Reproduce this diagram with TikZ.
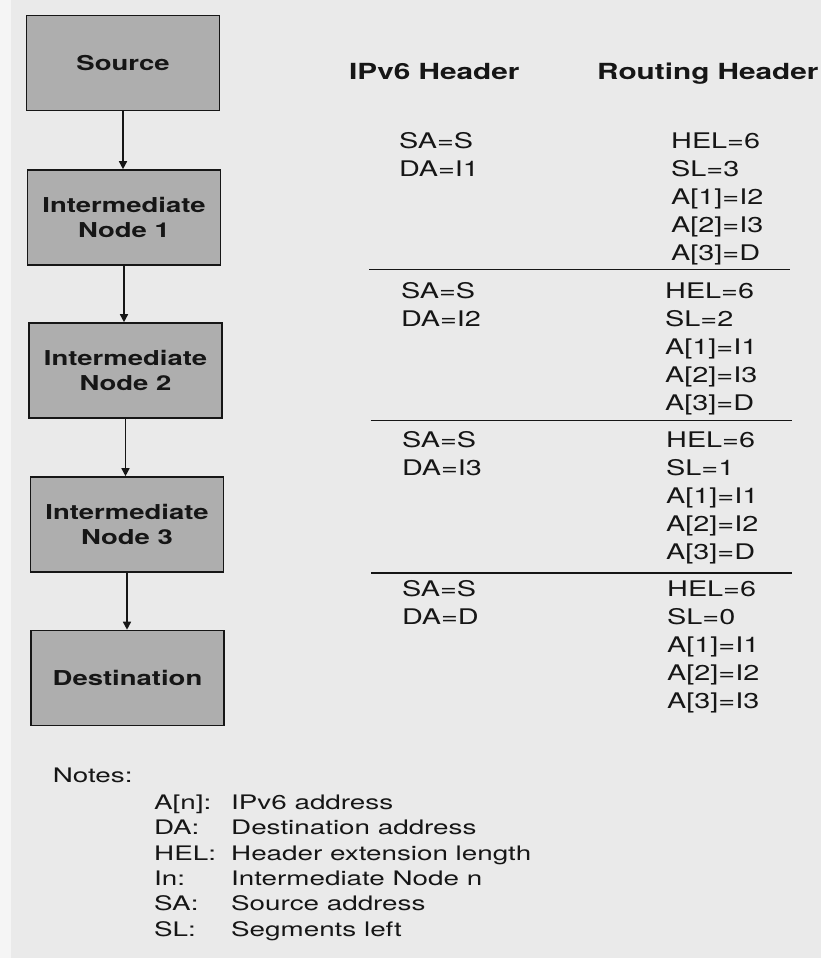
\documentclass[tikz,border=0pt]{standalone}
\usepackage{fontspec}
\usetikzlibrary{arrows.meta}

% Helvetica-like face, set a little wide as in the printed figure
\newfontfamily\heros[FakeStretch=1.34]{TeX Gyre Heros}
\newfontfamily\heroswide[FakeStretch=1.39]{TeX Gyre Heros}
\newcommand{\boxfont}{\heros\bfseries\fontsize{20.5}{25}\selectfont}
\newcommand{\headfont}{\heros\bfseries\fontsize{22.2}{26}\selectfont}
\newcommand{\datafont}{\heros\fontsize{21.5}{28}\selectfont}
\newcommand{\notefont}{\heroswide\fontsize{20}{25}\selectfont}

\definecolor{paper}{HTML}{EAEAEA}
\definecolor{paperedge}{HTML}{F5F5F5}
\definecolor{boxgray}{HTML}{AEAEAE}
\definecolor{ink}{HTML}{161616}

\tikzset{
  hopbox/.style={draw=ink, line width=1.6pt, fill=boxgray,
    minimum width=193pt, minimum height=95pt, inner sep=0pt,
    align=center, font=\boxfont, text=ink},
  hop/.style={draw=ink, line width=1.5pt, -{Triangle[length=8pt,width=8pt]}},
  colhead/.style={anchor=base west, inner sep=0pt, font=\headfont, text=ink},
  field/.style={anchor=base west, inner sep=0pt, font=\datafont, text=ink},
  note/.style={anchor=base west, inner sep=0pt, font=\notefont, text=ink},
  rule/.style={draw=ink, line width=1.4pt}
}

\begin{document}
\begin{tikzpicture}[x=1pt, y=-1pt]
  % page
  \path[use as bounding box, fill=paper] (0,0) rectangle (821,958);
  \fill[paperedge] (0,0) rectangle (11,958);

  % path of the packet
  \node[hopbox] (src) at (123,63)    {Source};
  \node[hopbox] (i1)  at (124,217.5) {Intermediate\\Node 1};
  \node[hopbox] (i2)  at (125.5,370.5) {Intermediate\\Node 2};
  \node[hopbox] (i3)  at (127,524.5) {Intermediate\\Node 3};
  \node[hopbox] (dst) at (127.5,678) {Destination};

  \draw[hop] (src.south) -- (src.south |- i1.north);
  \draw[hop] (i1.south)  -- (i1.south |- i2.north);
  \draw[hop] (i2.south)  -- (i2.south |- i3.north);
  \draw[hop] (i3.south)  -- (i3.south |- dst.north);

  % column headings
  \node[colhead] (hip) at (349,79) {IPv6 Header};
  \node[colhead] (hrt) at (597,79) {Routing Header};

  % header contents on each hop
  \foreach \t [count=\k from 0] in {SA=S,DA=I1}
    \node[field] (ipa-\k) at (399,148.3+28*\k) {\t};
  \foreach \t [count=\k from 0] in {HEL=6,SL=3,A[1]=I2,A[2]=I3,A[3]=D}
    \node[field] (rta-\k) at (671,148.3+28*\k) {\t};

  \foreach \t [count=\k from 0] in {SA=S,DA=I2}
    \node[field] (ipb-\k) at (401,298+28*\k) {\t};
  \foreach \t [count=\k from 0] in {HEL=6,SL=2,A[1]=I1,A[2]=I3,A[3]=D}
    \node[field] (rtb-\k) at (665,298+28*\k) {\t};

  \foreach \t [count=\k from 0] in {SA=S,DA=I3}
    \node[field] (ipc-\k) at (402,447+28*\k) {\t};
  \foreach \t [count=\k from 0] in {HEL=6,SL=1,A[1]=I1,A[2]=I2,A[3]=D}
    \node[field] (rtc-\k) at (666,447+28*\k) {\t};

  \foreach \t [count=\k from 0] in {SA=S,DA=D}
    \node[field] (ipd-\k) at (402,596+28*\k) {\t};
  \foreach \t [count=\k from 0] in {HEL=6,SL=0,A[1]=I1,A[2]=I2,A[3]=I3}
    \node[field] (rtd-\k) at (667,596+28.2*\k) {\t};

  % separators between hops
  \coordinate (s1l) at (369,269.5);   \coordinate (s1r) at (790,269.5);
  \coordinate (s2l) at (370.5,420.5); \coordinate (s2r) at (791.5,420.5);
  \coordinate (s3l) at (371,573);     \coordinate (s3r) at (792,573);
  \draw[rule] (s1l) -- (s1r);
  \draw[rule] (s2l) -- (s2r);
  \draw[rule] (s3l) -- (s3r);

  % legend
  \node[note] (notes) at (52.7,782.7) {Notes:};
  \foreach \a/\b [count=\k from 0] in {A[n]:/IPv6 address,
      DA:/Destination address, HEL:/Header extension length,
      In:/Intermediate Node n, SA:/Source address, SL:/Segments left}
  {
    \node[note] (nk-\k) at (154,809.3+25.4*\k) {\a};
    \node[note] (nv-\k) at (231,809.3+25.4*\k) {\b};
  }
\end{tikzpicture}
\end{document}
